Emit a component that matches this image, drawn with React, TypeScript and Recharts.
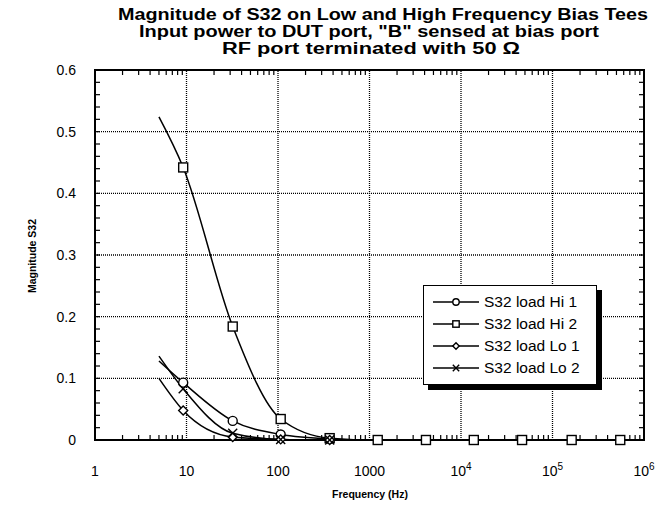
import React from 'react';
import { ComposedChart, Line, XAxis, YAxis, ReferenceLine, Customized } from 'recharts';

// measured points (Hz)
const freqs = [9.2, 32, 107, 367, 1230, 4140, 13800, 46500, 162000, 550000];
// smoothed curves begin here, no marker drawn
const curveStartFreq = 5;

const seriesNames = ['S32 load Hi 1', 'S32 load Hi 2', 'S32 load Lo 1', 'S32 load Lo 2'];
const seriesMarkers = ['circle', 'square', 'diamond', 'cross'];
const curveStarts = [0.128, 0.524, 0.1, 0.136];
const hi1 = [0.093, 0.031, 0.009, 0.002];
const hi2 = [0.442, 0.184, 0.034, 0.003, 0, 0, 0, 0, 0, 0];
const lo1 = [0.048, 0.005, 0.001, 0];
const lo2 = [0.083, 0.011, 0.001, 0];

const xMajor = [1, 10, 100, 1000, 10000, 100000, 1000000];
const xTickLabels = ['1', '10', '100', '1000', '10^4', '10^5', '10^6'];
const yMajor = [0, 0.1, 0.2, 0.3, 0.4, 0.5, 0.6];
const yTickLabels = ['0', '0.1', '0.2', '0.3', '0.4', '0.5', '0.6'];

const titleLines = [
  'Magnitude of S32 on Low and High Frequency Bias Tees',
  'Input power to DUT port, "B" sensed at bias port',
  'RF port terminated with 50 Ω',
];

const FONT = '"Liberation Sans", Arial, sans-serif';
const W = 658;
const H = 507;
const MARGIN = { top: 70, right: 14, bottom: 66, left: 94 };
const AXIS_SIZE = 1;
const X_MIN = 1;
const X_MAX = 1000000;
const Y_MAX = 0.6;

// minor ticks: log 2..9 per decade, linear every 0.02
const xMinor: number[] = [];
xMajor.slice(0, -1).forEach((d) => {
  for (let m = 2; m <= 9; m++) xMinor.push(d * m);
});
const yMinor: number[] = [];
for (let i = 1; i < 30; i++) yMinor.push(Math.round(i * 2) / 100);

// plot box, from the margins above
const PL = MARGIN.left + AXIS_SIZE;
const PR = W - MARGIN.right;
const PT = MARGIN.top;
const PB = H - MARGIN.bottom - AXIS_SIZE;
const px = (f: number) => PL + ((PR - PL) * Math.log10(f / X_MIN)) / Math.log10(X_MAX / X_MIN);
const py = (v: number) => PB - ((PB - PT) * v) / Y_MAX;

const buildSeries = (idx: number, vals: number[]) => [
  { f: curveStartFreq, v: curveStarts[idx], start: true },
  ...vals.map((v, i) => ({ f: freqs[i], v, start: false })),
];
const allSeries = [hi1, hi2, lo1, lo2].map((vals, i) => buildSeries(i, vals));

const Marker = ({ kind, cx, cy, s = 4.5 }: { kind: string; cx: number; cy: number; s?: number }) => {
  const st = { stroke: '#000', strokeWidth: 1.4, fill: '#fff' };
  if (kind === 'circle') return <circle cx={cx} cy={cy} r={s} {...st} />;
  if (kind === 'square') return <rect x={cx - s} y={cy - s} width={s * 2} height={s * 2} {...st} />;
  if (kind === 'diamond')
    return <polygon points={`${cx},${cy - s} ${cx + s},${cy} ${cx},${cy + s} ${cx - s},${cy}`} {...st} />;
  return (
    <g stroke="#000" strokeWidth={1.4}>
      <line x1={cx - s} y1={cy - s} x2={cx + s} y2={cy + s} />
      <line x1={cx - s} y1={cy + s} x2={cx + s} y2={cy - s} />
    </g>
  );
};

const makeDot = (kind: string) => (p: any) => {
  if (p.payload.start) return <g key={`${kind}-${p.index}`} />;
  return <Marker key={`${kind}-${p.index}`} kind={kind} cx={p.cx} cy={p.cy} />;
};

const BottomTick = (p: any) => {
  const { x, y, payload } = p;
  const i = xMajor.indexOf(payload.value);
  if (i < 0) return <g />;
  const [base, exp] = xTickLabels[i].split('^');
  return (
    <text x={x} y={y + 28} textAnchor="middle" fontSize={14} fontFamily={FONT} fill="#000">
      <tspan>{base}</tspan>
      {exp && <tspan dy={-6} fontSize={10}>{exp}</tspan>}
    </text>
  );
};

const LeftTick = (p: any) => {
  const { x, y, payload } = p;
  const i = yMajor.findIndex((v) => Math.abs(v - payload.value) < 1e-6);
  if (i < 0) return <g />;
  return (
    <text x={x - 11} y={y + 5} textAnchor="end" fontSize={14} fontFamily={FONT} fill="#000">
      {yTickLabels[i]}
    </text>
  );
};

// frame with inward minor ticks on all four sides
const Frame = () => (
  <g stroke="#000" fill="none">
    {xMinor.map((f) => (
      <g key={`xm${f}`} strokeWidth={1.2}>
        <line x1={px(f)} x2={px(f)} y1={PB} y2={PB - 5} />
        <line x1={px(f)} x2={px(f)} y1={PT} y2={PT + 5} />
      </g>
    ))}
    {yMinor.map((v) => (
      <g key={`ym${v}`} strokeWidth={1.2}>
        <line x1={PL} x2={PL + 5} y1={py(v)} y2={py(v)} />
        <line x1={PR} x2={PR - 5} y1={py(v)} y2={py(v)} />
      </g>
    ))}
    <rect x={PL} y={PT} width={PR - PL} height={PB - PT} strokeWidth={2} />
  </g>
);

const titleWidths = [530, 460, 298];
const titleCenters = [383, 369, 371];

const Annotations = () => (
  <g fontFamily={FONT} fill="#000">
    {titleLines.map((t, i) => (
      <text
        key={t}
        x={titleCenters[i]}
        y={20 + i * 17}
        textAnchor="middle"
        fontSize={16}
        fontWeight="bold"
        textLength={titleWidths[i]}
        lengthAdjust="spacingAndGlyphs"
      >
        {t}
      </text>
    ))}
    <text x={370} y={498} textAnchor="middle" fontSize={10.5} fontWeight="bold">
      Frequency (Hz)
    </text>
    <text transform="translate(36,256) rotate(-90)" textAnchor="middle" fontSize={10.5} fontWeight="bold">
      Magnitude S32
    </text>
  </g>
);

const LegendBox = () => (
  <div
    style={{
      position: 'absolute',
      left: 423,
      top: 285,
      width: 172,
      border: '1.5px solid #000',
      background: '#fff',
      boxShadow: '5px 5px 0 #000',
      padding: '5px 0 5px 0',
      fontFamily: FONT,
      fontSize: 15.5,
      color: '#000',
    }}
  >
    {seriesNames.map((name, i) => (
      <div key={name} style={{ display: 'flex', alignItems: 'center', height: 22 }}>
        <svg width={58} height={22}>
          <line x1={9} x2={55} y1={11} y2={11} stroke="#000" strokeWidth={1.4} />
          <Marker kind={seriesMarkers[i]} cx={32} cy={11} s={3.2} />
        </svg>
        <span style={{ marginLeft: 2, whiteSpace: 'nowrap' }}>{name}</span>
      </div>
    ))}
  </div>
);

export default function App() {
  return (
    <div style={{ position: 'absolute', left: 0, top: 0, width: W, height: H, background: '#fff' }}>
      <ComposedChart width={W} height={H} margin={MARGIN}>
        <XAxis
          dataKey="f"
          type="number"
          scale="log"
          domain={[X_MIN, X_MAX]}
          allowDataOverflow
          ticks={xMajor}
          interval={0}
          height={AXIS_SIZE}
          tickLine={false}
          tick={BottomTick}
          axisLine={{ stroke: '#000', strokeWidth: 2 }}
        />
        <YAxis
          type="number"
          domain={[0, Y_MAX]}
          ticks={yMajor}
          interval={0}
          width={AXIS_SIZE}
          tickLine={false}
          tick={LeftTick}
          axisLine={{ stroke: '#000', strokeWidth: 2 }}
        />
        {xMajor.slice(1, -1).map((v) => (
          <ReferenceLine key={`vx${v}`} x={v} stroke="#000" strokeWidth={1.3} strokeDasharray="1 1" />
        ))}
        {yMajor.slice(1, -1).map((v) => (
          <ReferenceLine key={`hy${v}`} y={v} stroke="#000" strokeWidth={1.3} strokeDasharray="1 1" />
        ))}
        {allSeries.map((data, i) => (
          <Line
            key={seriesNames[i]}
            data={data}
            dataKey="v"
            type="monotone"
            stroke="#000"
            strokeWidth={1.5}
            dot={makeDot(seriesMarkers[i])}
            activeDot={false}
            isAnimationActive={false}
          />
        ))}
        <Customized component={Frame} />
        <Customized component={Annotations} />
      </ComposedChart>
      <LegendBox />
    </div>
  );
}
